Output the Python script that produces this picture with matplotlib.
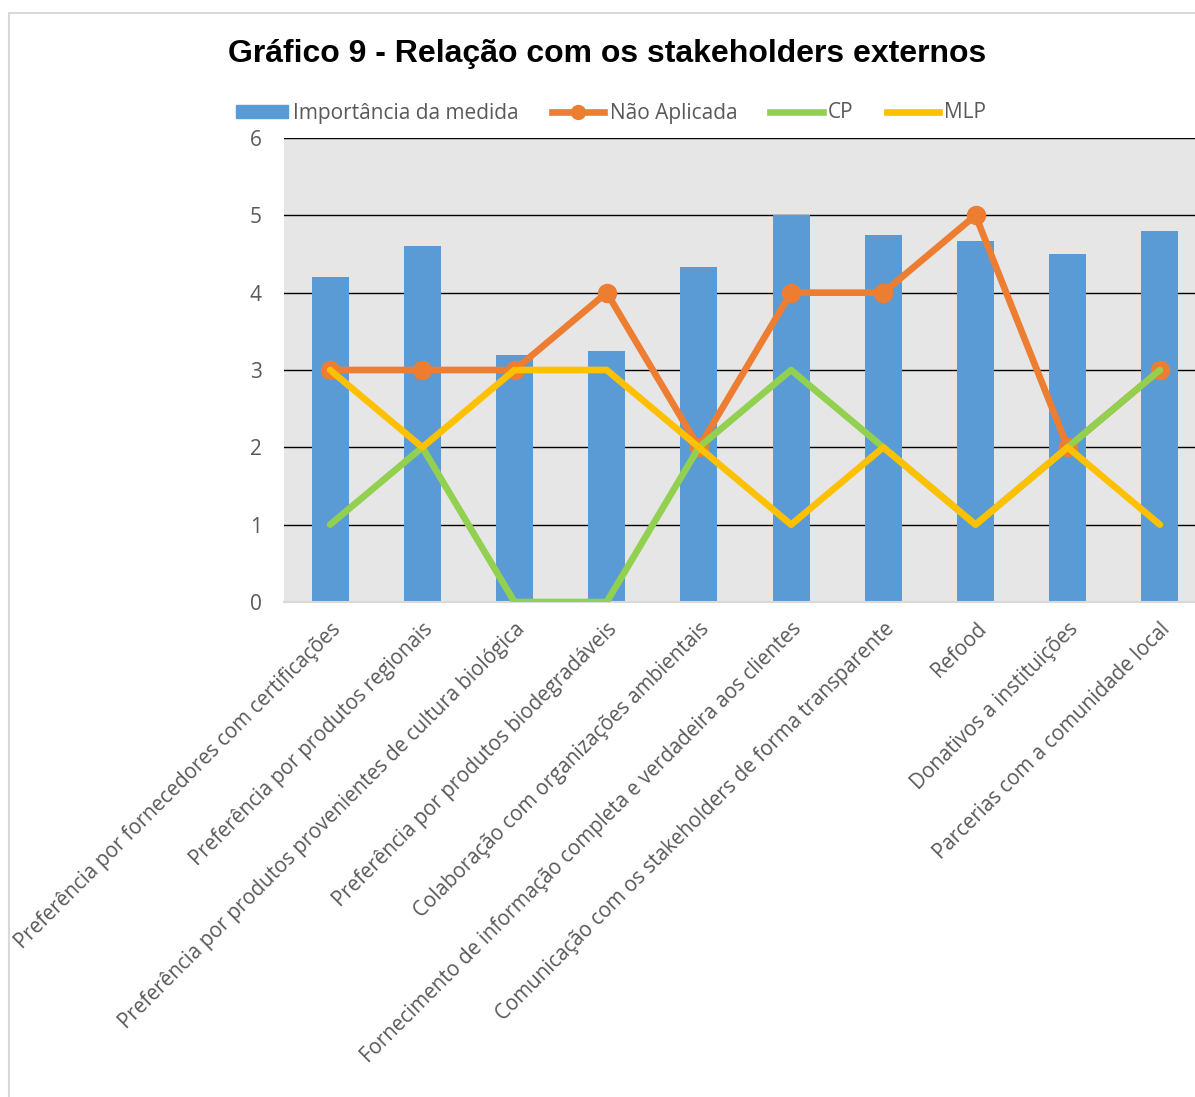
import matplotlib.pyplot as plt
from matplotlib.patches import Rectangle
from matplotlib.lines import Line2D
import numpy as np

categories = [
    "Preferência por fornecedores com certificações",
    "Preferência por produtos regionais",
    "Preferência por produtos provenientes de cultura biológica",
    "Preferência por produtos biodegradáveis",
    "Colaboração com organizações ambientais",
    "Fornecimento de informação completa e verdadeira aos clientes",
    "Comunicação com os stakeholders de forma transparente",
    "Refood",
    "Donativos a instituições",
    "Parcerias com a comunidade local",
]
importancia = [4.2, 4.6, 3.2, 3.25, 4.33, 5.0, 4.75, 4.67, 4.5, 4.8]
nao_aplicada = [3, 3, 3, 4, 2, 4, 4, 5, 2, 3]
cp = [1, 2, 0, 0, 2, 3, 2, 1, 2, 3]
mlp = [3, 2, 3, 3, 2, 1, 2, 1, 2, 1]

blue = "#5B9BD5"
orange = "#ED7D31"
green = "#92D050"
yellow = "#FFC000"
grey_txt = "#595959"

plt.rcParams['font.family'] = ['Open Sans', 'DejaVu Sans']

fig = plt.figure(figsize=(11.95, 10.97), dpi=100)
fig.patches.append(Rectangle((9 / 1195, -0.1), 1.2, 1 - 13 / 1097 + 0.1,
                             transform=fig.transFigure, fill=False,
                             edgecolor="#D9D9D9", linewidth=1.5))

ax = fig.add_axes([284 / 1195, 1 - 602 / 1097, 922 / 1195, 464 / 1097])
ax.set_facecolor("#E7E6E6")

x = np.arange(len(categories))
lw = 4.8
ax.bar(x, importancia, width=0.4, color=blue, zorder=2)
ax.plot(x, nao_aplicada, color=orange, lw=lw, marker='o', markersize=13,
        zorder=3, solid_capstyle='round')
ax.plot(x, cp, color=green, lw=lw, zorder=4, solid_capstyle='round')
ax.plot(x, mlp, color=yellow, lw=lw, zorder=5, solid_capstyle='round')

ax.set_xlim(-0.5, len(categories) - 0.5)
ax.set_ylim(0, 6)
ax.set_yticks(range(0, 7))
ax.yaxis.grid(True, color="black", linewidth=1, zorder=1)
ax.set_axisbelow(True)
for s in ["left", "right", "top"]:
    ax.spines[s].set_visible(False)
ax.spines["bottom"].set_color("#D9D9D9")
ax.spines["bottom"].set_linewidth(1.5)
ax.tick_params(axis='y', length=0, pad=16, labelsize=15, labelcolor=grey_txt)
ax.tick_params(axis='x', length=0, pad=12, labelsize=14.8, labelcolor=grey_txt)
ax.set_xticks(x)
ax.set_xticklabels(categories, rotation=45, ha='right', rotation_mode='anchor')

fig.text(607 / 1195, 1 - 54 / 1097, "Gráfico 9 - Relação com os stakeholders externos",
         ha='center', va='center', fontsize=23, fontweight='bold',
         family='Liberation Sans')

handles = [
    Rectangle((0, 0), 1, 1, color=blue),
    Line2D([], [], color=orange, lw=lw, marker='o', markersize=10),
    Line2D([], [], color=green, lw=lw),
    Line2D([], [], color=yellow, lw=lw),
]
labels = ["Importância da medida", "Não Aplicada", "CP", "MLP"]
fig.legend(handles, labels, loc='center', bbox_to_anchor=(611 / 1195, 1 - 113 / 1097),
           ncol=4, frameon=False, fontsize=15, labelcolor=grey_txt,
           handlelength=2.5, handleheight=0.6, handletextpad=0.25, columnspacing=1.6)

fig.savefig("out.png", dpi=100)
